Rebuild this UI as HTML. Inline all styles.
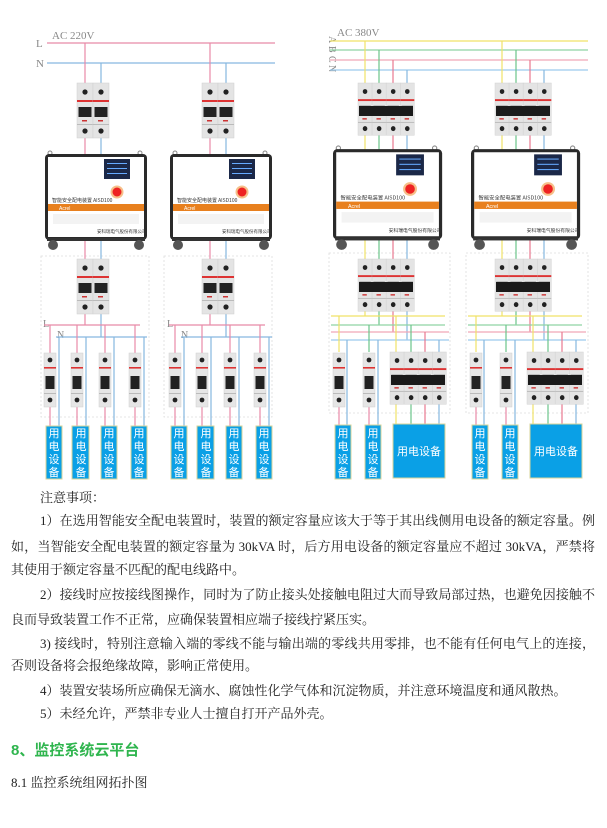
<!DOCTYPE html>
<html><head><meta charset="utf-8"><style>
html,body{margin:0;padding:0;background:#fff;}
body{width:607px;height:828px;position:relative;overflow:hidden;}
svg{position:absolute;left:0;top:0;}
.t{position:absolute;left:11px;width:584px;font-family:"Liberation Serif","Noto Serif CJK SC",serif;font-size:13px;line-height:16px;color:#222;white-space:nowrap;}
.j{text-align:justify;text-align-last:justify;}
.h{position:absolute;left:11px;font-family:"Liberation Sans","Noto Sans CJK SC",sans-serif;font-size:15px;font-weight:bold;color:#2fb54e;}
</style></head><body>
<svg width="607" height="490" viewBox="0 0 607 490" xmlns="http://www.w3.org/2000/svg">
<defs>
<g id="pole">
<rect x="0" y="0" width="16" height="55" fill="#e4e4e4" stroke="#cfcfcf" stroke-width="0.5"/>
<circle cx="8" cy="9" r="2.6" fill="#222"/>
<rect x="0" y="17" width="16" height="2" fill="#d33"/>
<rect x="1.5" y="24" width="13" height="10" fill="#222"/>
<rect x="5" y="37" width="5" height="1.5" fill="#c33"/>
<rect x="0" y="41" width="16" height="1" fill="#bbb"/>
<circle cx="8" cy="48" r="2.6" fill="#222"/>
</g>
<g id="sb">
<rect x="0" y="0" width="12" height="54" fill="#e6e6e6" stroke="#d0d0d0" stroke-width="0.5"/>
<circle cx="6" cy="7" r="2.4" fill="#222"/>
<rect x="0" y="14" width="12" height="1.6" fill="#d33"/>
<rect x="1.5" y="23" width="9" height="13" fill="#222"/>
<rect x="0" y="40" width="12" height="1" fill="#bbb"/>
<circle cx="6" cy="47" r="2.4" fill="#222"/>
</g>
<g id="dev">
<circle cx="5" cy="1" r="2" fill="none" stroke="#888" stroke-width="1"/>
<circle cx="95" cy="1" r="2" fill="none" stroke="#888" stroke-width="1"/>
<rect x="0" y="2" width="102" height="86" rx="4" fill="#2a2a2a"/>
<rect x="3" y="5" width="96" height="80" fill="#fff"/>
<rect x="59" y="7" width="26" height="20" fill="#1b2848"/>
<rect x="62" y="11" width="20" height="1" fill="#6af"/><rect x="62" y="16" width="20" height="1" fill="#6af"/><rect x="62" y="21" width="20" height="1" fill="#6af"/>
<circle cx="72" cy="40" r="6.5" fill="#f6c08a"/><circle cx="72" cy="40" r="4.5" fill="#e22"/>
<text x="7" y="50" font-size="5" fill="#333" font-family="Noto Sans CJK SC,sans-serif">智能安全配电装置 AISD100</text>
<rect x="3" y="52" width="96" height="7" fill="#e8801e"/>
<text x="14" y="58" font-size="5" fill="#fff" font-family="Liberation Sans,sans-serif">Acrel</text>
<rect x="8" y="62" width="86" height="10" fill="#f3f3f3"/>
<text x="52" y="81" font-size="4.5" fill="#333" font-family="Noto Sans CJK SC,sans-serif">安科瑞电气股份有限公司</text>
<rect x="2" y="86" width="98" height="3" fill="#333"/>
<circle cx="8" cy="93" r="5" fill="#555"/><circle cx="94" cy="93" r="5" fill="#555"/>
</g>
<g id="b2"><use href="#pole" x="0"/><use href="#pole" x="16"/></g>
<g id="b4"><use href="#pole" x="0" transform="scale(0.88,0.95)"/><use href="#pole" x="16" transform="scale(0.88,0.95)"/><use href="#pole" x="32" transform="scale(0.88,0.95)"/><use href="#pole" x="48" transform="scale(0.88,0.95)"/><rect x="1" y="23" width="54" height="10" fill="#1a1a1a"/></g>
</defs>

<g font-family="Liberation Serif,serif" fill="#888" font-size="11">
<text x="52" y="39">AC 220V</text>
<text x="36" y="47">L</text><text x="36" y="67">N</text>
<text x="337" y="36">AC 380V</text>
<text x="322" y="37" font-size="10" transform="rotate(90 326 40)">A</text>
<text x="322" y="47" font-size="10" transform="rotate(90 326 50)">B</text>
<text x="322" y="57" font-size="10" transform="rotate(90 326 60)">C</text>
<text x="322" y="66" font-size="10" transform="rotate(90 326 69)">N</text>
<text x="43" y="327" font-size="10">L</text><text x="57" y="338" font-size="10">N</text>
<text x="167" y="327" font-size="10">L</text><text x="181" y="338" font-size="10">N</text>
</g>

<g fill="none" stroke="#ddd" stroke-dasharray="2,2" stroke-width="0.8">
<rect x="41" y="256" width="108" height="161"/><rect x="164" y="256" width="108" height="161"/>
<rect x="329" y="253" width="121" height="160"/><rect x="466" y="253" width="122" height="160"/>
</g>

<g stroke-width="1.2" fill="none">
<line x1="47" y1="43" x2="275" y2="43" stroke="#e88aa8"/>
<line x1="47" y1="63" x2="275" y2="63" stroke="#86b8e0"/>
<g id="lgroup">
<line x1="85" y1="43" x2="85" y2="325" stroke="#e88aa8"/>
<line x1="101" y1="63" x2="101" y2="337" stroke="#86b8e0"/>
<line x1="44" y1="325" x2="140" y2="325" stroke="#e88aa8"/>
<line x1="56" y1="337" x2="147" y2="337" stroke="#86b8e0"/>
<line x1="50" y1="325" x2="50" y2="426" stroke="#e88aa8"/><line x1="59" y1="337" x2="59" y2="426" stroke="#86b8e0"/>
<line x1="77" y1="325" x2="77" y2="426" stroke="#e88aa8"/><line x1="86" y1="337" x2="86" y2="426" stroke="#86b8e0"/>
<line x1="105" y1="325" x2="105" y2="426" stroke="#e88aa8"/><line x1="114" y1="337" x2="114" y2="426" stroke="#86b8e0"/>
<line x1="135" y1="325" x2="135" y2="426" stroke="#e88aa8"/><line x1="144" y1="337" x2="144" y2="426" stroke="#86b8e0"/>
</g>
<use href="#lgroup" x="125"/>
</g>
<use href="#b2" x="77" y="83"/><use href="#b2" x="202" y="83"/>
<use href="#dev" x="45" y="152"/><use href="#dev" x="170" y="152"/>
<use href="#b2" x="77" y="259"/><use href="#b2" x="202" y="259"/>
<g id="lsb"><use href="#sb" x="44" y="353"/><use href="#sb" x="71" y="353"/><use href="#sb" x="99" y="353"/><use href="#sb" x="129" y="353"/></g>
<use href="#lsb" x="125"/>
<g id="lbox" fill="#0aa0e6" stroke="#d8d49a" stroke-width="1">
<rect x="46" y="426" width="16" height="53"/><rect x="72" y="426" width="17" height="53"/><rect x="101" y="426" width="16" height="53"/><rect x="131" y="426" width="16" height="53"/>
</g>
<use href="#lbox" x="125"/>
<g fill="#fff" font-family="Noto Sans CJK SC,sans-serif" font-size="11" text-anchor="middle">
<g id="vt1"><text x="54" y="437">用</text><text x="54" y="450">电</text><text x="54" y="463">设</text><text x="54" y="476">备</text></g>
<use href="#vt1" x="27"/><use href="#vt1" x="55"/><use href="#vt1" x="85"/>
<use href="#vt1" x="125"/><use href="#vt1" x="152"/><use href="#vt1" x="180"/><use href="#vt1" x="210"/>
</g>

<g stroke-width="1.2" fill="none">
<line x1="330" y1="41" x2="588" y2="41" stroke="#f0e268"/>
<line x1="330" y1="50" x2="588" y2="50" stroke="#8fd4a4"/>
<line x1="330" y1="60" x2="588" y2="60" stroke="#f0a8b8"/>
<line x1="330" y1="70" x2="588" y2="70" stroke="#9ccaee"/>
<g id="rgroup">
<line x1="365" y1="41" x2="365" y2="316" stroke="#f0e268"/>
<line x1="379" y1="50" x2="379" y2="325" stroke="#6cc48a"/>
<line x1="393" y1="60" x2="393" y2="332" stroke="#e87890"/>
<line x1="407" y1="70" x2="407" y2="340" stroke="#86b8e0"/>
<line x1="331" y1="316" x2="445" y2="316" stroke="#f0e268"/>
<line x1="331" y1="325" x2="445" y2="325" stroke="#8fd4a4"/>
<line x1="331" y1="332" x2="449" y2="332" stroke="#f0a8b8"/>
<line x1="331" y1="340" x2="449" y2="340" stroke="#9ccaee"/>
<line x1="339" y1="316" x2="339" y2="352" stroke="#f0e268"/><line x1="339" y1="407" x2="339" y2="425" stroke="#e88aa8"/>
<line x1="347" y1="340" x2="347" y2="425" stroke="#86b8e0"/>
<line x1="369" y1="325" x2="369" y2="352" stroke="#6cc48a"/><line x1="369" y1="407" x2="369" y2="425" stroke="#e88aa8"/>
<line x1="378" y1="340" x2="378" y2="425" stroke="#86b8e0"/>
<line x1="396" y1="316" x2="396" y2="424" stroke="#f0e268"/>
<line x1="411" y1="325" x2="411" y2="424" stroke="#6cc48a"/>
<line x1="425" y1="332" x2="425" y2="424" stroke="#e87890"/>
<line x1="439" y1="340" x2="439" y2="424" stroke="#86b8e0"/>
</g>
<use href="#rgroup" x="137"/>
</g>
<use href="#b4" x="358" y="83"/><use href="#b4" x="495" y="83"/>
<use href="#dev" transform="translate(333,147) scale(1.07,1.05)"/>
<use href="#dev" transform="translate(471,147) scale(1.07,1.05)"/>
<use href="#b4" x="358" y="259"/><use href="#b4" x="495" y="259"/>
<g id="rsb"><use href="#sb" x="333" y="353"/><use href="#sb" x="363" y="353"/><use href="#b4" x="390" y="352"/></g>
<use href="#rsb" x="137"/>
<g id="rbox" fill="#0aa0e6" stroke="#d8d49a" stroke-width="1">
<rect x="335" y="425" width="16" height="54"/><rect x="365" y="425" width="16" height="54"/><rect x="393" y="424" width="52" height="54"/>
</g>
<use href="#rbox" x="137"/>
<g fill="#fff" font-family="Noto Sans CJK SC,sans-serif" font-size="11" text-anchor="middle">
<use href="#vt1" x="289"/><use href="#vt1" x="319"/><use href="#vt1" x="426"/><use href="#vt1" x="456"/>
<text x="419" y="455">用电设备</text><text x="556" y="455">用电设备</text>
</g>
</svg>

<div class="t" style="top:490px;left:40px;width:auto">注意事项：</div>
<div class="t j" style="top:513px;left:40px;width:555px">1）在选用智能安全配电装置时，装置的额定容量应该大于等于其出线侧用电设备的额定容量。例</div>
<div class="t j" style="top:539px">如，当智能安全配电装置的额定容量为 30kVA 时，后方用电设备的额定容量应不超过 30kVA，严禁将</div>
<div class="t" style="top:562px">其使用于额定容量不匹配的配电线路中。</div>
<div class="t j" style="top:587px;left:40px;width:555px">2）接线时应按接线图操作，同时为了防止接头处接触电阻过大而导致局部过热，也避免因接触不</div>
<div class="t" style="top:612px">良而导致装置工作不正常，应确保装置相应端子接线拧紧压实。</div>
<div class="t j" style="top:636px;left:40px;width:555px">3) 接线时，特别注意输入端的零线不能与输出端的零线共用零排，也不能有任何电气上的连接，</div>
<div class="t" style="top:658px">否则设备将会报绝缘故障，影响正常使用。</div>
<div class="t" style="top:683px;left:40px">4）装置安装场所应确保无滴水、腐蚀性化学气体和沉淀物质，并注意环境温度和通风散热。</div>
<div class="t" style="top:706px;left:40px">5）未经允许，严禁非专业人士擅自打开产品外壳。</div>
<div class="h" style="top:739px">8、监控系统云平台</div>
<div class="t" style="top:775px">8.1 监控系统组网拓扑图</div>
</body></html>
